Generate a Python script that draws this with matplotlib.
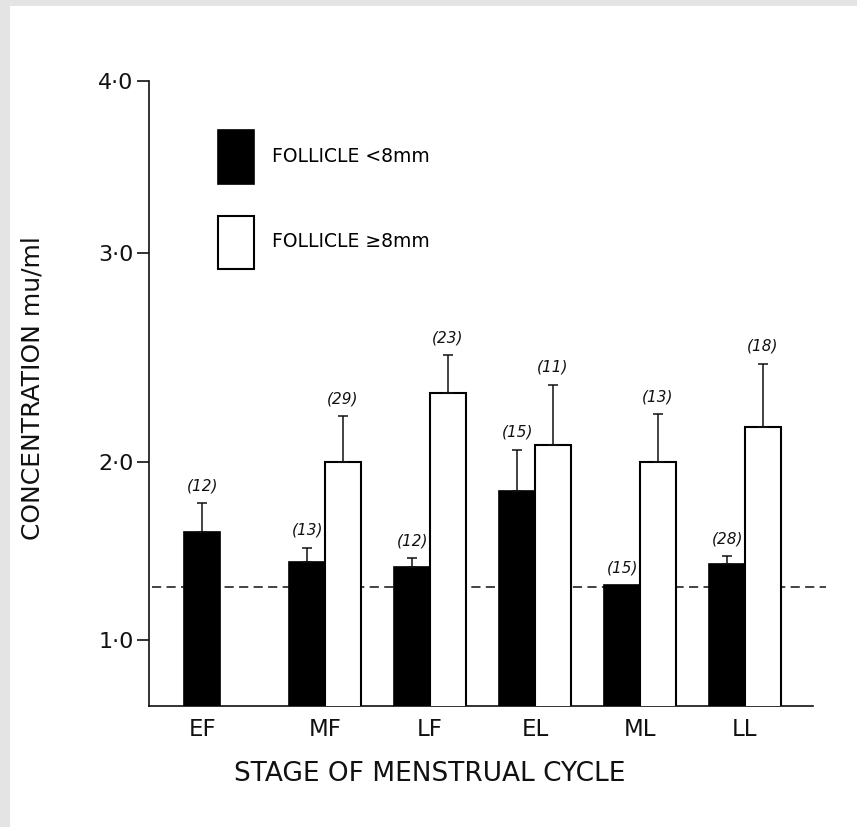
import numpy as np
import matplotlib.pyplot as plt
from matplotlib.patches import Patch, Rectangle

# data
stages = ["EF", "MF", "LF", "EL", "ML", "LL"]
small_mean = [1.61, 1.44, 1.41, 1.84, 1.31, 1.43]
small_sem = [0.16, 0.08, 0.05, 0.22, 0.0, 0.04]
small_n = [12, 13, 12, 15, 15, 28]
large_mean = [np.nan, 2.00, 2.33, 2.08, 2.00, 2.17]
large_sem = [np.nan, 0.22, 0.18, 0.29, 0.23, 0.30]
large_n = [None, 29, 23, 11, 13, 18]
baseline = 1.30
ytick_vals = [1.0, 2.0, 3.0, 4.0]
ytick_labels = ["1·0", "2·0", "3·0", "4·0"]

# the hand drawn y axis is not evenly spaced, so map values to page height
scale_vals = [0.0, 1.0, 2.0, 3.0, 4.0, 5.0]
scale_pos = [9.0, 187.0, 365.0, 574.0, 746.0, 918.0]


def fwd(v):
    return np.interp(v, scale_vals, scale_pos)


def inv(p):
    return np.interp(p, scale_pos, scale_vals)


ink = "#111111"
plt.rcParams["font.family"] = ["DejaVu Sans"]

fig = plt.figure(figsize=(8.57, 8.27), dpi=100)
fig.patch.set_facecolor("#e4e4e4")
fig.patches.append(Rectangle((10 / 857, 0), 1, 1 - 6 / 827, transform=fig.transFigure,
                             facecolor="white", edgecolor="none", zorder=-10))

ax = fig.add_axes([149 / 857, 121 / 827, 664 / 857, 625 / 827])
ax.set_facecolor("none")
ax.set_yscale("function", functions=(fwd, inv))

w = 0.34
x = np.arange(len(stages))
xb = x - w / 2
xw = x + w / 2

ax.bar(xb, small_mean, width=w, color="black", edgecolor="black", linewidth=1.2, zorder=3)
ax.bar(xw, large_mean, width=w, color="white", edgecolor="black", linewidth=1.5, zorder=3)

for xs, means, sems, ns in [(xb, small_mean, small_sem, small_n),
                            (xw, large_mean, large_sem, large_n)]:
    for xi, m, s, n in zip(xs, means, sems, ns):
        if n is None:
            continue
        top = m
        if s > 0:
            ax.errorbar([xi], [m], yerr=[[0], [s]], fmt="none", ecolor=ink,
                        elinewidth=1.1, capsize=3.8, capthick=1.1, zorder=4)
            top = m + s
        ax.annotate(f"({n})", (xi, top), xytext=(0, 12.5), textcoords="offset points",
                    ha="center", va="center", fontsize=11, style="italic", color=ink)

ax.plot([-0.65, 5.77], [baseline, baseline], color=ink, linewidth=1.1,
        dashes=(6, 3.5), clip_on=False, zorder=2)

ax.set_xlim(-0.676, 5.648)
ax.set_ylim(0.63, 4.0)

ticks_x = [xb[i] if np.isnan(large_mean[i]) else x[i] for i in range(len(stages))]
ax.set_xticks(ticks_x)
ax.set_xticklabels(stages, fontsize=16.5, color=ink)
ax.tick_params(axis="x", length=0, pad=9)
ax.set_yticks(ytick_vals)
ax.set_yticklabels(ytick_labels, fontsize=16, color=ink)
ax.tick_params(axis="y", length=9, width=1.2, color=ink, pad=2)
ax.yaxis.set_minor_locator(plt.NullLocator())

for side in ["top", "right"]:
    ax.spines[side].set_visible(False)
for side in ["left", "bottom"]:
    ax.spines[side].set_linewidth(1.2)
    ax.spines[side].set_color(ink)

ax.set_xlabel("STAGE OF MENSTRUAL CYCLE", fontsize=19, color=ink)
ax.xaxis.set_label_coords(0.423, -0.088)
ax.set_ylabel("CONCENTRATION mu/ml", fontsize=18, color=ink)
ax.yaxis.set_label_coords(-0.157, 0.509)

handles = [Patch(facecolor="black", edgecolor="black", linewidth=1.2),
           Patch(facecolor="white", edgecolor="black", linewidth=1.5)]
ax.legend(handles, ["FOLLICLE <8mm", "FOLLICLE ≥8mm"], loc="upper left",
          bbox_to_anchor=(0.104, 0.9216), frameon=False, fontsize=13.5,
          handlelength=1.93, handleheight=4.03, handletextpad=0.96,
          labelspacing=1.7, borderpad=0, borderaxespad=0)

fig.savefig("out.png", dpi=100, facecolor=fig.get_facecolor())
